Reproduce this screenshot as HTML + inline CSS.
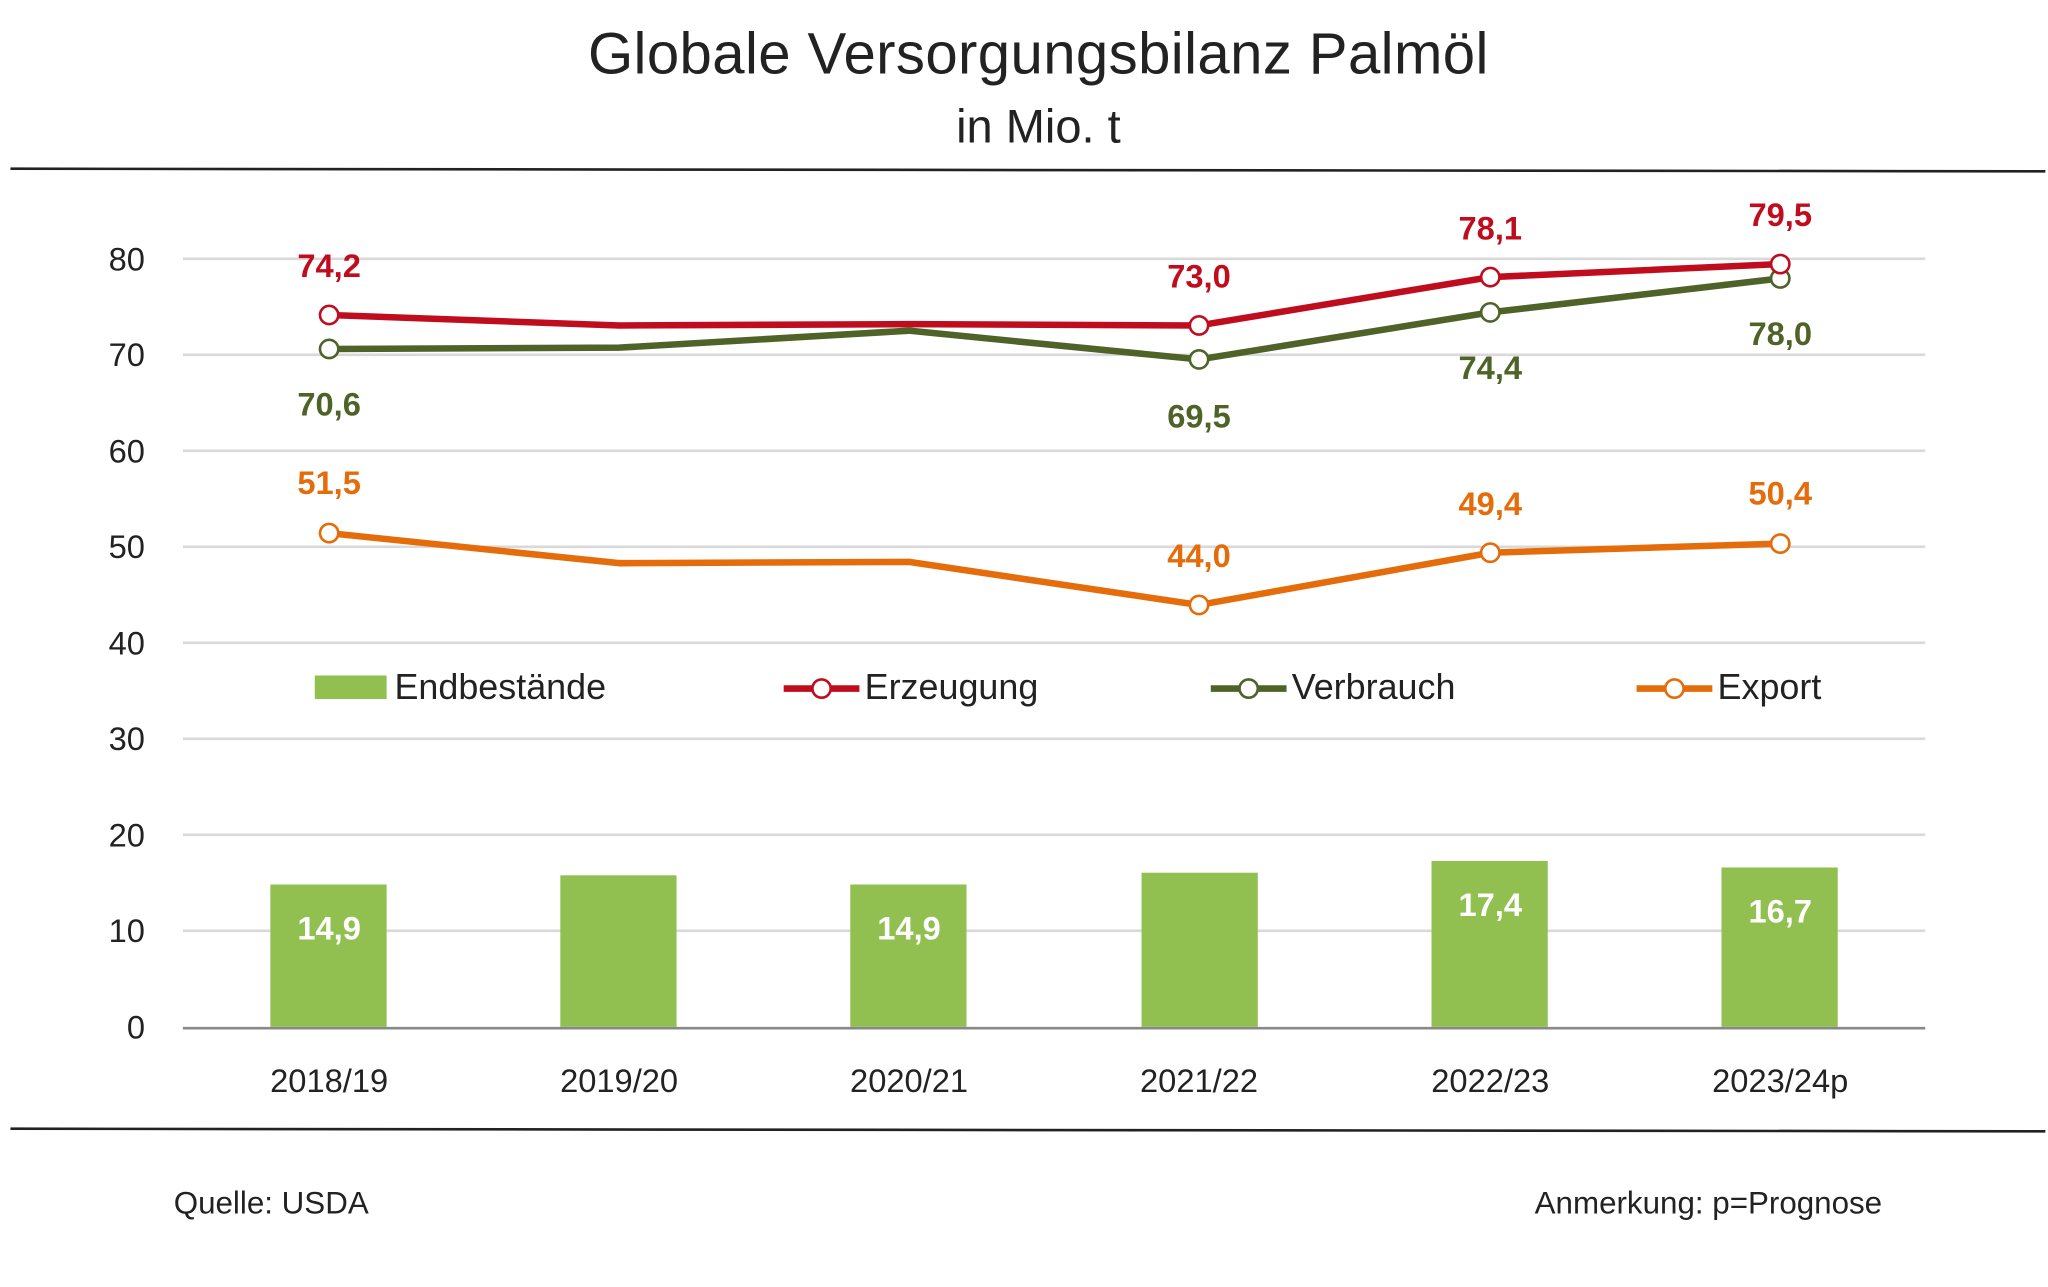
<!DOCTYPE html>
<html><head><meta charset="utf-8"><style>
html,body{margin:0;padding:0;background:#fff;}
svg{display:block;}
text{font-family:"Liberation Sans",sans-serif;}
</style></head><body>
<svg width="2048" height="1287" viewBox="0 0 1568 985" xmlns="http://www.w3.org/2000/svg">
<rect width="1568" height="985" fill="#fff"/>
<text x="795" y="56" font-size="44.5" text-anchor="middle" fill="#222" letter-spacing="0.3">Globale Versorgungsbilanz Palmöl</text>
<text x="795" y="109" font-size="36" text-anchor="middle" fill="#222">in Mio. t</text>
<line x1="8" y1="129" x2="1566" y2="131" stroke="#222" stroke-width="2"/>
<line x1="8" y1="864" x2="1566" y2="866" stroke="#222" stroke-width="2"/>
<g stroke="#d9d9d9" stroke-width="2">
<line x1="140" y1="198" x2="1474" y2="198"/>
<line x1="140" y1="271.5" x2="1474" y2="271.5"/>
<line x1="140" y1="345" x2="1474" y2="345"/>
<line x1="140" y1="418.5" x2="1474" y2="418.5"/>
<line x1="140" y1="492" x2="1474" y2="492"/>
<line x1="140" y1="565.5" x2="1474" y2="565.5"/>
<line x1="140" y1="639" x2="1474" y2="639"/>
<line x1="140" y1="712.5" x2="1474" y2="712.5"/>
</g>
<g font-size="25" fill="#222" text-anchor="end">
<text x="111" y="207">80</text><text x="111" y="280">70</text><text x="111" y="354">60</text>
<text x="111" y="427">50</text><text x="111" y="501">40</text><text x="111" y="574">30</text>
<text x="111" y="648">20</text><text x="111" y="721">10</text><text x="111" y="795">0</text>
</g>
<g fill="#92c050">
<rect x="207" y="677" width="89" height="109"/>
<rect x="429" y="670" width="89" height="116"/>
<rect x="651" y="677" width="89" height="109"/>
<rect x="874" y="668" width="89" height="118"/>
<rect x="1096" y="659" width="89" height="127"/>
<rect x="1318" y="664" width="89" height="122"/>
</g>
<line x1="140" y1="787" x2="1474" y2="787" stroke="#888" stroke-width="2"/>
<g font-size="25" font-weight="bold" fill="#fff" text-anchor="middle">
<text x="252" y="719">14,9</text><text x="696" y="719">14,9</text>
<text x="1141" y="701">17,4</text><text x="1363" y="706">16,7</text>
</g>
<g font-size="25" fill="#222" text-anchor="middle">
<text x="252" y="836">2018/19</text><text x="474" y="836">2019/20</text><text x="696" y="836">2020/21</text>
<text x="918" y="836">2021/22</text><text x="1141" y="836">2022/23</text><text x="1363" y="836">2023/24p</text>
</g>
<g fill="none" stroke-width="5" stroke-linejoin="round">
<polyline stroke="#e46c0a" points="252,408 474,431 696,430 918,463 1141,423 1363,416"/>
<polyline stroke="#4f6228" points="252,267 474,266 696,253 918,275 1141,239 1363,213"/>
<polyline stroke="#c00d1e" points="252,241 474,249 696,248 918,249 1141,212 1363,202"/>
</g>
<g fill="#fff" stroke-width="2">
<g stroke="#e46c0a"><circle cx="252" cy="408" r="7"/><circle cx="918" cy="463" r="7"/><circle cx="1141" cy="423" r="7"/><circle cx="1363" cy="416" r="7"/></g>
<g stroke="#4f6228"><circle cx="252" cy="267" r="7"/><circle cx="918" cy="275" r="7"/><circle cx="1141" cy="239" r="7"/><circle cx="1363" cy="213" r="7"/></g>
<g stroke="#c00d1e"><circle cx="252" cy="241" r="7"/><circle cx="918" cy="249" r="7"/><circle cx="1141" cy="212" r="7"/><circle cx="1363" cy="202" r="7"/></g>
</g>
<g font-size="25" font-weight="bold" text-anchor="middle">
<g fill="#c00d1e"><text x="252" y="212">74,2</text><text x="918" y="220">73,0</text><text x="1141" y="183">78,1</text><text x="1363" y="173">79,5</text></g>
<g fill="#4f6228"><text x="252" y="318">70,6</text><text x="918" y="327">69,5</text><text x="1141" y="290">74,4</text><text x="1363" y="264">78,0</text></g>
<g fill="#e46c0a"><text x="252" y="378">51,5</text><text x="918" y="434">44,0</text><text x="1141" y="394">49,4</text><text x="1363" y="386">50,4</text></g>
</g>
<rect x="241" y="517" width="55" height="18" fill="#92c050"/>
<text x="302" y="535" font-size="27.5" fill="#222">Endbestände</text>
<line x1="600" y1="527" x2="658" y2="527" stroke="#c00d1e" stroke-width="5"/><circle cx="629" cy="527" r="7" fill="#fff" stroke="#c00d1e" stroke-width="2"/>
<text x="662" y="535" font-size="27.5" fill="#222">Erzeugung</text>
<line x1="927" y1="527" x2="985" y2="527" stroke="#4f6228" stroke-width="5"/><circle cx="956" cy="527" r="7" fill="#fff" stroke="#4f6228" stroke-width="2"/>
<text x="989" y="535" font-size="27.5" fill="#222">Verbrauch</text>
<line x1="1253" y1="527" x2="1311" y2="527" stroke="#e46c0a" stroke-width="5"/><circle cx="1282" cy="527" r="7" fill="#fff" stroke="#e46c0a" stroke-width="2"/>
<text x="1315" y="535" font-size="27.5" fill="#222">Export</text>
<text x="133" y="929" font-size="24" fill="#222">Quelle: USDA</text>
<text x="1441" y="929" font-size="24" fill="#222" text-anchor="end">Anmerkung: p=Prognose</text>
</svg>
</body></html>
